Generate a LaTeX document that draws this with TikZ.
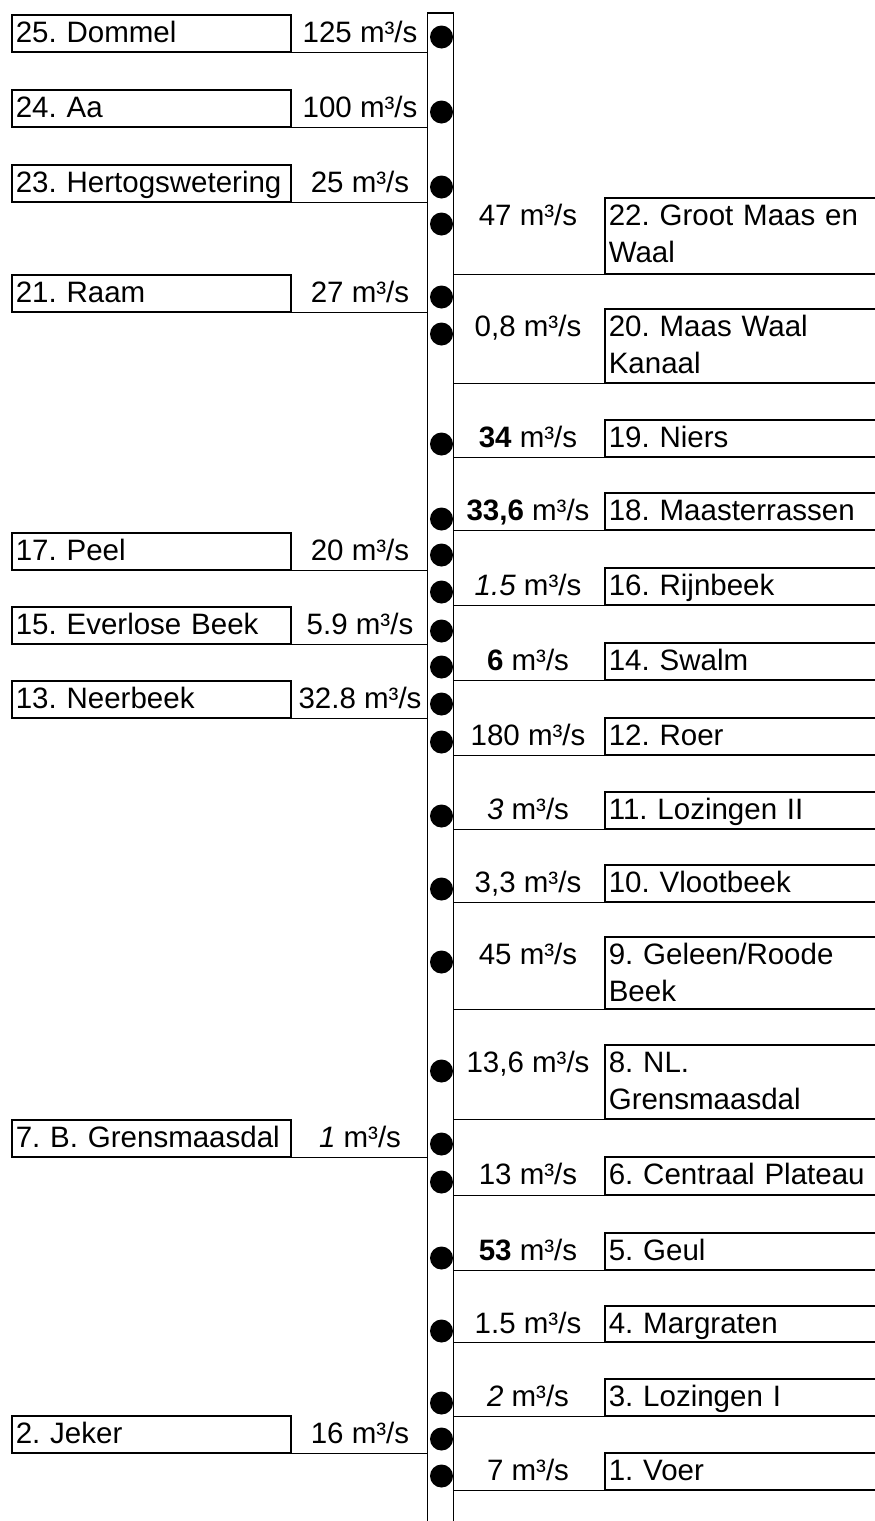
\documentclass[tikz,border=0pt]{standalone}
\usepackage{fontspec}
\setmainfont{Liberation Sans}
\frenchspacing
\newcommand\riverfont{\fontsize{29.5}{37}\selectfont}
\tikzset{
  rule/.style={line width=1.6pt, line cap=rect},
  lbox/.style={draw, rule, anchor=north west, inner xsep=4pt, inner ysep=0pt,
    text width=271pt, align=left, text height=28pt, text depth=9pt, font=\riverfont},
  rbox/.style={draw, rule, anchor=north west, inner xsep=4pt, inner ysep=0pt,
    text width=268pt, align=left, text height=28pt, font=\riverfont},
  val/.style={anchor=base, inner sep=0pt, font=\riverfont},
  dot/.style={circle, fill=black, inner sep=0pt, minimum size=23pt},
}
% left tributary: name, top, label, discharge
\newcommand\riverL[4]{%
  \node[lbox] (l#1) at (11,#2) {#3};
  \node[val] (v#1) at (360,#2+28) {#4};
  \draw[rule] (l#1.south east) -- (l#1.south east -| chTL);
}
% right tributary: name, top, text depth, label, discharge
\newcommand\riverR[5]{%
  \node[rbox, text depth=#3pt] (r#1) at (604,#2) {#4};
  \node[val] (v#1) at (528,#2+28) {#5};
  \draw[rule] (r#1.south west) -- (r#1.south west -| chTR);
}
\begin{document}
\begin{tikzpicture}[x=1pt,y=-1pt]
\useasboundingbox (0,0) rectangle (875,1521);
\fill[white] (0,0) rectangle (875,1521);

% main channel
\coordinate (chTL) at (427.5,13);
\coordinate (chTR) at (453.5,13);
\coordinate (chBL) at (427.5,1530);
\coordinate (chBR) at (453.5,1530);
\draw[rule] (chBL) -- (chTL) -- (chTR) -- (chBR);

% left bank
\riverL{25}{14}{25. Dommel}{125 m³/s}
\riverL{24}{89}{24. Aa}{100 m³/s}
\riverL{23}{164}{23. Hertogswetering}{25 m³/s}
\riverL{21}{274}{21. Raam}{27 m³/s}
\riverL{17}{532}{17. Peel}{20 m³/s}
\riverL{15}{606}{15. Everlose Beek}{5.9 m³/s}
\riverL{13}{680}{13. Neerbeek}{32.8 m³/s}
\riverL{7}{1119}{7. B. Grensmaasdal}{\textit{1} m³/s}
\riverL{2}{1415}{2. Jeker}{16 m³/s}

% right bank
\riverR{22}{197}{48}{22. Groot Maas en\\Waal}{47 m³/s}
\riverR{20}{308}{46}{20. Maas Waal\\Kanaal}{0,8 m³/s}
\riverR{19}{419}{9}{19. Niers}{\textbf{34} m³/s}
\riverR{18}{492}{9}{18. Maasterrassen}{\textbf{33,6} m³/s}
\riverR{16}{567}{9}{16. Rijnbeek}{\textit{1.5} m³/s}
\riverR{14}{642}{9}{14. Swalm}{\textbf{6} m³/s}
\riverR{12}{717}{9}{12. Roer}{180 m³/s}
\riverR{11}{791}{9}{11. Lozingen II}{\textit{3} m³/s}
\riverR{10}{864}{9}{10. Vlootbeek}{3,3 m³/s}
\riverR{9}{936}{44}{9. Geleen/Roode\\Beek}{45 m³/s}
\riverR{8}{1044}{46}{8. NL.\\Grensmaasdal}{13,6 m³/s}
\riverR{6}{1156}{10}{6. Centraal Plateau}{13 m³/s}
\riverR{5}{1232}{9}{5. Geul}{\textbf{53} m³/s}
\riverR{4}{1305}{8}{4. Margraten}{1.5 m³/s}
\riverR{3}{1378}{9}{3. Lozingen I}{\textit{2} m³/s}
\riverR{1}{1452}{9}{1. Voer}{7 m³/s}

% inflow points
\foreach \n/\y in {25/37, 24/112, 23/187, 22/224, 21/297, 20/334, 19/444,
  18/519, 17/555, 16/592, 15/631, 14/667, 13/704, 12/742, 11/816, 10/889,
  9/962, 8/1071, 7/1144, 6/1182, 5/1258, 4/1331, 3/1403, 2/1439, 1/1476}
  \node[dot] (d\n) at (441.5,\y) {};
\end{tikzpicture}
\end{document}
